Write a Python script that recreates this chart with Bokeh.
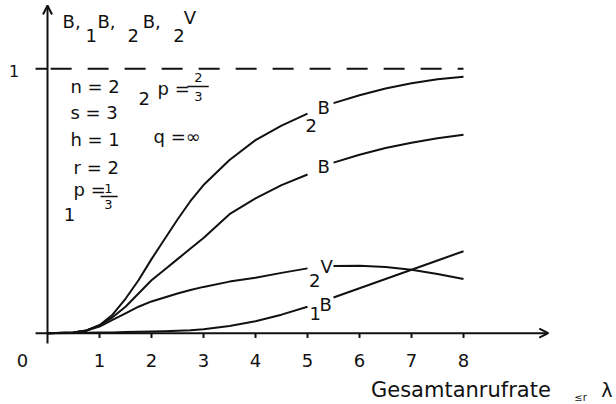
from bokeh.plotting import figure
from bokeh.models import Arrow, OpenHead, Range1d
from bokeh.core.properties import value
from bokeh.embed import file_html
from bokeh.resources import INLINE

# total call rate (x axis)
lam = [0, 0.5, 0.75, 1, 1.25, 1.5, 1.75, 2, 2.25, 2.5, 2.75, 3, 3.5, 4,
       4.5, 5, 5.5, 6, 6.5, 7, 7.5, 8]

# blocking / loss curves
b2 = [0, 0.003, 0.01, 0.03, 0.07, 0.13, 0.2, 0.28, 0.355, 0.43, 0.5, 0.56,
      0.655, 0.73, 0.785, 0.83, 0.87, 0.9, 0.925, 0.945, 0.96, 0.97]
b = [0, 0.003, 0.01, 0.03, 0.06, 0.1, 0.15, 0.2, 0.24, 0.28, 0.32, 0.36,
     0.45, 0.51, 0.56, 0.6, 0.645, 0.675, 0.7, 0.72, 0.737, 0.75]
v2 = [0, 0.003, 0.01, 0.025, 0.05, 0.075, 0.1, 0.12, 0.135, 0.15, 0.163,
      0.175, 0.195, 0.21, 0.228, 0.245, 0.254, 0.255, 0.25, 0.24, 0.224, 0.205]
b1 = [0, 0.001, 0.002, 0.003, 0.003, 0.004, 0.005, 0.006, 0.007, 0.009,
      0.011, 0.015, 0.027, 0.045, 0.07, 0.1, 0.135, 0.17, 0.205, 0.24, 0.275, 0.31]

x_ticks = [1, 2, 3, 4, 5, 6, 7, 8]
x_tick_labels = ["1", "2", "3", "4", "5", "6", "7", "8"]

# curves are interrupted where their labels sit
GAP_LO, GAP_HI = 5.0, 5.5

FONT = value("DejaVu Sans")
INK = "#111111"

p = figure(width=616, height=404, output_backend="svg", toolbar_location=None,
           x_axis_location=None, y_axis_location=None,
           x_range=Range1d(-0.904, 10.942), y_range=Range1d(-0.2697, 1.258),
           min_border=0, outline_line_color=None, background_fill_color="white",
           border_fill_color="white")
p.grid.visible = False


def txt(x, y, s, size=18, align="left"):
    p.text(x=[x], y=[y], text=[s], text_font=FONT,
           text_font_size=f"{size}px", text_color=INK,
           text_align=align, text_baseline="middle")


# axes with open arrow heads
p.add_layout(Arrow(end=OpenHead(size=9, line_width=2, line_color=INK),
                   x_start=-0.23, y_start=0, x_end=9.63, y_end=0,
                   line_width=2, line_color=INK))
p.add_layout(Arrow(end=OpenHead(size=9, line_width=2, line_color=INK),
                   x_start=0, y_start=-0.039, x_end=0, y_end=1.239,
                   line_width=2, line_color=INK))

# x ticks and labels
p.segment(x0=x_ticks, y0=[0] * len(x_ticks), x1=x_ticks,
          y1=[-0.018] * len(x_ticks), line_width=2, line_color=INK)
p.text(x=x_ticks, y=[-0.103] * len(x_ticks), text=x_tick_labels,
       text_font=FONT, text_font_size="18px", text_color=INK,
       text_align="center", text_baseline="middle")
txt(-0.48, -0.103, "0", align="center")

# y tick at 1 and the dashed limit line
p.segment(x0=[-0.23], y0=[1], x1=[0], y1=[1], line_width=2, line_color=INK)
txt(-0.644, 0.992, "1", size=16, align="center")
p.line([0.06, 8.0], [1, 1], line_width=2, line_color=INK, line_dash="21 16")

# curves
for ys in (b2, b, v2, b1):
    left_x = [x for x in lam if x <= GAP_LO]
    right_x = [x for x in lam if x >= GAP_HI]
    p.line(left_x, ys[:len(left_x)], line_width=2, line_color=INK,
           line_join="round")
    p.line(right_x, ys[len(lam) - len(right_x):], line_width=2,
           line_color=INK, line_join="round")

# y axis title: B, 1B, 2B, 2V
txt(0.29, 1.177, "B,")
txt(0.73, 1.126, "1")
txt(0.96, 1.177, "B,")
txt(1.54, 1.126, "2")
txt(1.83, 1.177, "B,")
txt(2.42, 1.126, "2")
txt(2.62, 1.194, "V")

# parameters
txt(0.44, 0.931, "n = 2")
txt(0.44, 0.833, "s = 3")
txt(0.44, 0.731, "h = 1")
txt(0.50, 0.625, "r = 2")
txt(0.31, 0.449, "1")
txt(0.50, 0.545, "p =")
txt(1.17, 0.547, "1", size=13, align="center")
p.segment(x0=[1.02], y0=[0.517], x1=[1.35], y1=[0.517], line_width=1.5, line_color=INK)
txt(1.17, 0.487, "3", size=13, align="center")

txt(1.75, 0.888, "2")
txt(2.115, 0.925, "p =")
txt(2.9, 0.965, "2", size=13, align="center")
p.segment(x0=[2.69], y0=[0.933], x1=[3.1], y1=[0.933], line_width=1.5, line_color=INK)
txt(2.9, 0.895, "3", size=13, align="center")

txt(2.04, 0.744, "q =\u221e")

# curve labels
txt(4.96, 0.787, "2")
txt(5.19, 0.852, "B")
txt(5.19, 0.629, "B")
txt(5.03, 0.201, "2")
txt(5.25, 0.252, "V")
txt(5.04, 0.076, "1")
txt(5.23, 0.107, "B")

# x axis title
txt(7.95, -0.213, "Gesamtanrufrate", size=21, align="center")
txt(10.13, -0.243, "\u2264r", size=10)
txt(10.65, -0.215, "\u03bb", size=19)

open("out.html", "w").write(file_html(p, INLINE))
